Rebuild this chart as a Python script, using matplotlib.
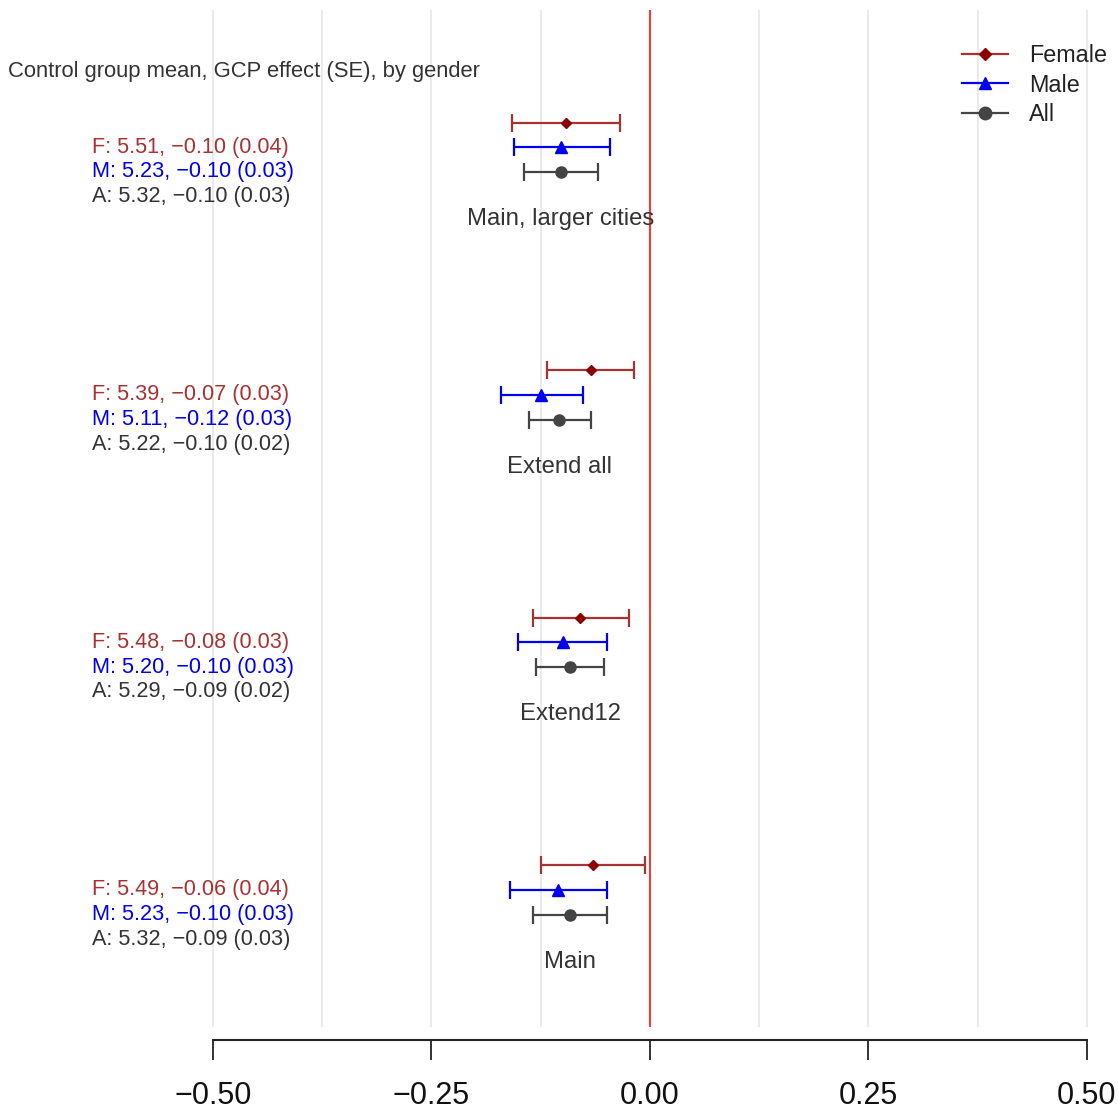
import matplotlib
matplotlib.use("Agg")
import matplotlib.pyplot as plt
from matplotlib.lines import Line2D
import numpy as np

plt.rcParams['font.family'] = ['Liberation Sans', 'DejaVu Sans']

# ---- data (bottom to top) ----
groups = ["Main", "Extend12", "Extend all", "Main, larger cities"]

female_est = [-0.065, -0.080, -0.068, -0.0965]
female_lo = [-0.1247, -0.134, -0.118, -0.158]
female_hi = [-0.0054, -0.0244, -0.018, -0.0347]

male_est = [-0.105, -0.100, -0.125, -0.102]
male_lo = [-0.160, -0.1507, -0.171, -0.156]
male_hi = [-0.0492, -0.0488, -0.0767, -0.046]

all_est = [-0.0915, -0.0915, -0.104, -0.102]
all_lo = [-0.1335, -0.1308, -0.139, -0.1445]
all_hi = [-0.0492, -0.0523, -0.067, -0.0595]

female_labels = ["F: 5.49, \u22120.06 (0.04)", "F: 5.48, \u22120.08 (0.03)",
                 "F: 5.39, \u22120.07 (0.03)", "F: 5.51, \u22120.10 (0.04)"]
male_labels = ["M: 5.23, \u22120.10 (0.03)", "M: 5.20, \u22120.10 (0.03)",
               "M: 5.11, \u22120.12 (0.03)", "M: 5.23, \u22120.10 (0.03)"]
all_labels = ["A: 5.32, \u22120.09 (0.03)", "A: 5.29, \u22120.09 (0.02)",
              "A: 5.22, \u22120.10 (0.02)", "A: 5.32, \u22120.10 (0.03)"]

xticks = [-0.50, -0.25, 0.00, 0.25, 0.50]
xtick_labels = ["\u22120.50", "\u22120.25", "0.00", "0.25", "0.50"]
grid_x = [-0.5, -0.375, -0.25, -0.125, 0.125, 0.25, 0.375, 0.5]

title = "Control group mean, GCP effect (SE), by gender"
series_names = ["Female", "Male", "All"]

# ---- colours ----
c_f_line = "#A83232"
c_f_mark = "#8B0000"
c_m = "#0000EE"
c_a = "#444444"
c_text = "#333333"

W, H = 1118, 1115
fig = plt.figure(figsize=(W / 100, H / 100), dpi=100)
ax = fig.add_axes([0, 0, 1, 1])

# pixel <-> data mapping
x0 = -0.5 - 213 / 874
x1 = 0.5 + (W - 1087) / 874
y_top = (914.5 - 0) / 24.75
y_bot = (914.5 - H) / 24.75
ax.set_xlim(x0, x1)
ax.set_ylim(y_bot, y_top)

panel_top = (914.5 - 10) / 24.75
panel_bot = (914.5 - 1027) / 24.75

ax.vlines(grid_x, panel_bot, panel_top, color="#E8E8E8", lw=1.3, zorder=0)
ax.vlines([0.0], panel_bot, panel_top, color="#FF2020", lw=1.3, zorder=1)

gy = np.arange(len(groups)) * 10.0

def draw(est, lo, hi, yy, col, mcol, marker, ms):
    est = np.array(est)
    err = np.vstack([est - np.array(lo), np.array(hi) - est])
    return ax.errorbar(est, yy, xerr=err, fmt=marker, color=mcol, ecolor=col,
                       elinewidth=1.6, capsize=6.5, capthick=1.6, ms=ms,
                       zorder=3)

draw(female_est, female_lo, female_hi, gy + 2, c_f_line, c_f_mark, "D", 5)
draw(male_est, male_lo, male_hi, gy + 1, c_m, c_m, "^", 8)
draw(all_est, all_lo, all_hi, gy, c_a, c_a, "o", 8)

tx = -0.5 - (213 - 92) / 874
for i in range(len(groups)):
    ax.text(tx, gy[i] + 1, female_labels[i], color=c_f_line, fontsize=15.6,
            ha="left", va="center")
    ax.text(tx, gy[i], male_labels[i], color=c_m, fontsize=15.6,
            ha="left", va="center")
    ax.text(tx, gy[i] - 1, all_labels[i], color=c_text, fontsize=15.6,
            ha="left", va="center")
    ax.text(all_est[i], gy[i] - 1.9, groups[i], color=c_text, fontsize=17.2,
            ha="center", va="center")

ax.text(-0.5 - (213 - 8) / 874, (914.5 - 72) / 24.75, title, color=c_text,
        fontsize=15.8, ha="left", va="center")

# axis
for s in ["top", "right", "left"]:
    ax.spines[s].set_visible(False)
ax.spines["bottom"].set_position(("data", (914.5 - 1040) / 24.75))
ax.spines["bottom"].set_bounds(-0.5, 0.5)
ax.spines["bottom"].set_linewidth(1.5)
ax.spines["bottom"].set_color("#222222")
ax.set_xticks(xticks)
ax.set_xticklabels(xtick_labels)
ax.tick_params(axis="x", direction="out", length=14.5, width=1.3,
               color="#222222", labelsize=22, pad=15, labelcolor="#111111")
ax.set_yticks([])

# legend
handles = [
    Line2D([], [], color=c_f_line, marker="D", mfc=c_f_mark, mec=c_f_mark, ms=6, lw=1.6),
    Line2D([], [], color=c_m, marker="^", ms=9, lw=1.6),
    Line2D([], [], color=c_a, marker="o", ms=9, lw=1.6),
]
leg = fig.legend(handles, series_names, loc="upper left",
                 bbox_to_anchor=(962 / W, 1 - 44 / H), frameon=False,
                 fontsize=16.8, handlelength=1.97, handletextpad=0.9,
                 labelspacing=0.28, borderpad=0, borderaxespad=0)
for t in leg.get_texts():
    t.set_color("#222222")

fig.savefig("out.png", dpi=100)
